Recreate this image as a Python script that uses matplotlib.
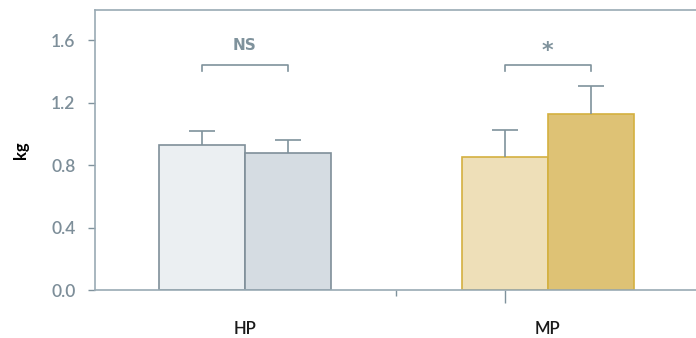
import matplotlib.pyplot as plt
import numpy as np

groups = ["HP", "MP"]
means_a = [0.93, 0.85]
means_b = [0.88, 1.13]
err_a = [0.085, 0.175]
err_b = [0.08, 0.175]
signif = ["NS", "*"]

fill_a = ["#ebeff2", "#eedfb8"]
fill_b = ["#d5dce2", "#dec275"]
edges = ["#7f8f99", "#d4b040"]
gray = "#7f929c"
tick_gray = "#7d8e99"

plt.rcParams["font.family"] = ["Lato", "DejaVu Sans"]

fig = plt.figure(figsize=(6.96, 3.38), dpi=100)
ax = fig.add_axes([0.1365, 0.142, 0.8635, 0.828])

x = np.arange(len(groups))
w = 0.284

ax.bar(x - w / 2, means_a, w, color=fill_a, edgecolor=edges, linewidth=1.2, zorder=2)
ax.bar(x + w / 2, means_b, w, color=fill_b, edgecolor=edges, linewidth=1.2, zorder=2)
for pos, m, e in [(x - w / 2, means_a, err_a), (x + w / 2, means_b, err_b)]:
    _, caps, _ = ax.errorbar(pos, m, yerr=[np.zeros(len(e)), e], fmt="none", ecolor=gray,
                             elinewidth=1.2, capsize=9.4, capthick=1.2, zorder=3)
    caps[0].remove()  # only upper whisker

# significance brackets
for i, s in enumerate(signif):
    x0, x1 = x[i] - w / 2, x[i] + w / 2
    ax.plot([x0, x0, x1, x1], [1.40, 1.44, 1.44, 1.40], color=gray, lw=1.2)
    if s == "NS":
        ax.text(x[i], 1.565, s, ha="center", va="center", color=gray,
                fontsize=11, fontweight="bold", family="DejaVu Sans")
    else:
        ax.text(x[i], 1.53, s, ha="center", va="center", color=gray,
                fontsize=16, fontweight="bold", family="DejaVu Sans")

ax.set_xlim(-0.495, 1.49)
ax.set_ylim(0, 1.792)
ax.set_yticks([0, 0.4, 0.8, 1.2, 1.6])
ax.set_yticklabels(["0.0", "0.4", "0.8", "1.2", "1.6"])
ax.set_ylabel("kg", fontsize=12, fontweight="bold", labelpad=16)

ax.set_xticks([0.5])
ax.set_xticklabels([""])
ax.set_xticks([x[1] - w / 2], minor=True)
ax.tick_params(axis="x", which="major", length=4, color=gray, width=1)
ax.tick_params(axis="x", which="minor", length=9.5, color=gray, width=1)
ax.tick_params(axis="y", length=5, color=gray, width=1, labelcolor=tick_gray,
               labelsize=12.5, pad=9)
for t in ax.get_yticklabels():
    t.set_fontweight("semibold")

for i, g in enumerate(groups):
    ax.text(x[i], -0.25, g, ha="center", va="center", fontsize=12,
            fontweight="semibold", color="#1a1a1a", clip_on=False)

for side in ["left", "top", "bottom"]:
    ax.spines[side].set_color("#9aaab4")
    ax.spines[side].set_linewidth(1.2)
ax.spines["right"].set_visible(False)

fig.savefig("out.png", dpi=100)
